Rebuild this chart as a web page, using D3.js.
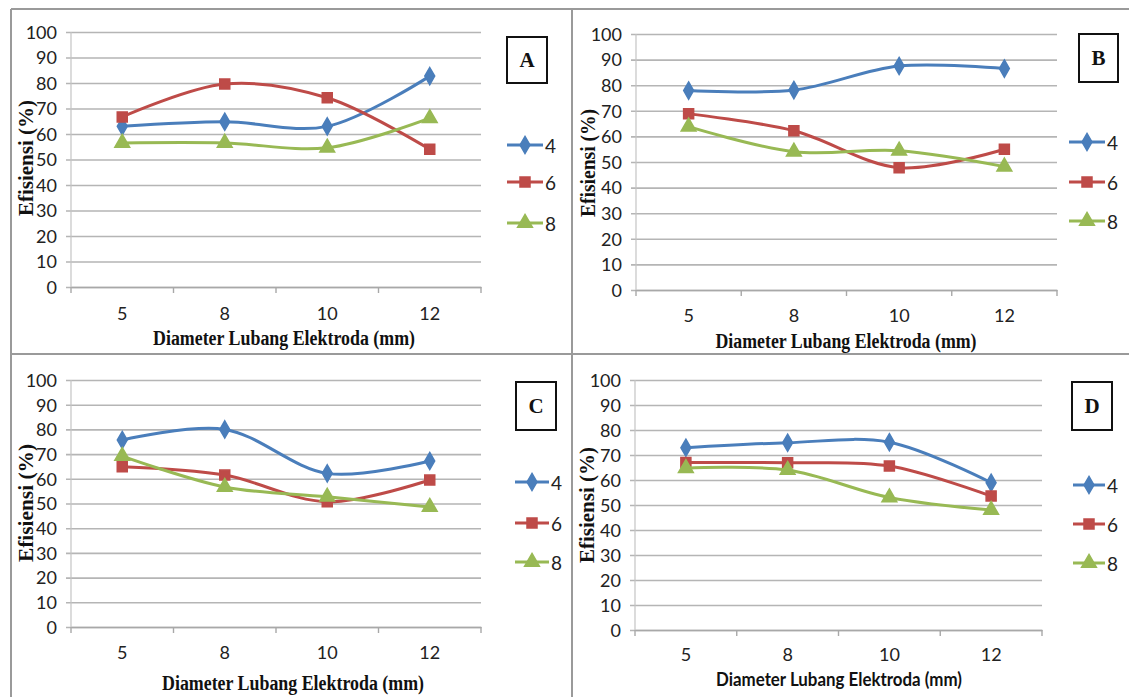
<!DOCTYPE html>
<html>
<head>
  <meta charset='utf-8'>
  <script src='https://cdn.jsdelivr.net/npm/d3@7/dist/d3.min.js'></script>
  <style>
    body { margin: 0; background: #fff; }
    svg { display: block; }
  </style>
</head>
<body>
<div id='chart'></div>
<script>
// x categories: diameter lubang elektroda (mm)
var categories = ['5', '8', '10', '12'];
var seriesNames = ['4', '6', '8'];
var yTicks = [0, 10, 20, 30, 40, 50, 60, 70, 80, 90, 100];

// efisiensi (%)
var a4 = [63.0, 64.8, 63.0, 82.7];
var a6 = [66.7, 79.6, 74.2, 54.0];
var a8 = [56.5, 56.5, 54.6, 66.2];

var b4 = [77.9, 78.1, 87.5, 86.5];
var b6 = [68.8, 62.2, 47.8, 55.0];
var b8 = [63.8, 54.0, 54.4, 48.2];

var c4 = [75.7, 80.0, 62.2, 67.2];
var c6 = [64.9, 61.5, 50.7, 59.5];
var c8 = [69.2, 56.7, 52.7, 48.6];

var d4 = [72.9, 74.9, 75.1, 58.9];
var d6 = [67.0, 66.9, 65.6, 53.6];
var d8 = [64.7, 64.0, 53.0, 48.0];

var xTitle = 'Diameter Lubang Elektroda (mm)';
var yTitle = 'Efisiensi  (%)';

var colors = ['#4a7ebb', '#be4b48', '#98b954'];
var shapes = [d3.symbolDiamond, d3.symbolSquare, d3.symbolTriangle];
var shapeSize = [85, 100, 95];

var panels = [
  { label: 'A', data: [a4, a6, a8], left: 71, right: 481, top: 32, bottom: 287, tickY: 314,
    tx: 284, ty: 338, tlen: 262, sans: false, yx: 26, yy: 158, ylen: 116,
    box: [507, 37, 40, 46], lx: [507, 543], legY: [145, 182, 223] },
  { label: 'B', data: [b4, b6, b8], left: 636, right: 1057, top: 34, bottom: 290, tickY: 316,
    tx: 846, ty: 341, tlen: 261, sans: false, yx: 588, yy: 163, ylen: 108,
    box: [1079, 34, 39, 48], lx: [1069, 1105], legY: [142, 182, 221] },
  { label: 'C', data: [c4, c6, c8], left: 71, right: 481, top: 380, bottom: 627, tickY: 653,
    tx: 293, ty: 683, tlen: 262, sans: false, yx: 26, yy: 503, ylen: 118,
    box: [516, 382, 40, 48], lx: [515, 549], legY: [482, 523, 562] },
  { label: 'D', data: [d4, d6, d8], left: 635, right: 1042, top: 380, bottom: 630, tickY: 655,
    tx: 839, ty: 679, tlen: 246, sans: true, yx: 587, yy: 505, ylen: 116,
    box: [1072, 382, 40, 48], lx: [1073, 1105], legY: [485, 524, 563] }
];

var W = 1129, H = 697;
var svg = d3.select('#chart').append('svg')
  .attr('width', W)
  .attr('height', H);

// panel frame lines
var frame = svg.append('g')
  .attr('stroke', '#9a9a9a')
  .attr('stroke-width', 2);
frame.append('line').attr('x1', 11).attr('x2', W).attr('y1', 9).attr('y2', 9);
frame.append('line').attr('x1', 11).attr('x2', 11).attr('y1', 9).attr('y2', H);
frame.append('line').attr('x1', 572).attr('x2', 572).attr('y1', 9).attr('y2', H);
frame.append('line').attr('x1', 11).attr('x2', W).attr('y1', 354).attr('y2', 354);

var numFont = 'Lato, "Open Sans", sans-serif';
var serifFont = '"Liberation Serif", "Times New Roman", serif';

panels.forEach(function(p) {
  var w = p.right - p.left;
  var g = svg.append('g')
    .attr('transform', 'translate(' + p.left + ',0)');

  var x = d3.scaleBand()
    .domain(categories)
    .range([0, w])
    .padding(0);

  var y = d3.scaleLinear()
    .domain([0, 100])
    .range([p.bottom, p.top]);

  // gridlines + y labels
  var yAxis = g.append('g')
    .call(d3.axisLeft(y).tickValues(yTicks).tickSizeOuter(0));
  yAxis.select('.domain').remove();
  yAxis.selectAll('.tick line')
    .attr('x1', -5)
    .attr('x2', w)
    .attr('stroke', '#b5b5b5')
    .attr('stroke-width', 1.6);
  yAxis.selectAll('.tick text')
    .attr('x', -14)
    .attr('dy', '0.35em')
    .attr('fill', '#222')
    .style('font-family', numFont)
    .style('font-size', '18px');

  // y axis line
  g.append('line')
    .attr('x1', 0).attr('x2', 0)
    .attr('y1', p.top).attr('y2', p.bottom)
    .attr('stroke', '#c4c4c4')
    .attr('stroke-width', 1.2);

  // x axis
  var xAxis = g.append('g')
    .attr('transform', 'translate(0,' + p.bottom + ')')
    .call(d3.axisBottom(x).tickSize(0));
  xAxis.select('.domain')
    .attr('stroke', '#a8a8a8')
    .attr('stroke-width', 1.6);
  xAxis.selectAll('.tick text')
    .attr('y', p.tickY - p.bottom)
    .attr('dy', '0.35em')
    .attr('fill', '#222')
    .style('font-family', numFont)
    .style('font-size', '18px');

  // tick marks at category boundaries
  var edges = categories.map(function(c) { return x(c); }).concat([w]);
  g.selectAll('.edge')
    .data(edges)
    .enter()
    .append('line')
    .attr('class', 'edge')
    .attr('x1', function(d) { return d; })
    .attr('x2', function(d) { return d; })
    .attr('y1', p.bottom)
    .attr('y2', p.bottom + 6)
    .attr('stroke', '#a8a8a8')
    .attr('stroke-width', 1.4);

  var line = d3.line()
    .x(function(d, i) { return x(categories[i]) + x.bandwidth() / 2; })
    .y(function(d) { return y(d); })
    .curve(d3.curveCatmullRom.alpha(0.5));

  p.data.forEach(function(vals, s) {
    g.append('path')
      .datum(vals)
      .attr('d', line)
      .attr('fill', 'none')
      .attr('stroke', colors[s])
      .attr('stroke-width', 3);

    g.selectAll('.m' + s)
      .data(vals)
      .enter()
      .append('path')
      .attr('class', 'm' + s)
      .attr('transform', function(d, i) {
        return 'translate(' + (x(categories[i]) + x.bandwidth() / 2) + ',' + y(d) + ')';
      })
      .attr('d', d3.symbol().type(shapes[s]).size(shapeSize[s]))
      .attr('fill', colors[s])
      .attr('stroke', colors[s])
      .attr('stroke-width', 1.5);
  });

  // x title
  svg.append('text')
    .attr('x', p.tx)
    .attr('y', p.ty)
    .attr('text-anchor', 'middle')
    .attr('dominant-baseline', 'central')
    .attr('textLength', p.tlen)
    .attr('lengthAdjust', 'spacingAndGlyphs')
    .attr('fill', '#111')
    .style('font-family', p.sans ? numFont : serifFont)
    .style('font-weight', 'bold')
    .style('font-size', p.sans ? '18px' : '20px')
    .text(xTitle);

  // y title
  svg.append('text')
    .attr('transform', 'translate(' + p.yx + ',' + p.yy + ') rotate(-90)')
    .attr('text-anchor', 'middle')
    .attr('dominant-baseline', 'central')
    .attr('textLength', p.ylen)
    .attr('lengthAdjust', 'spacingAndGlyphs')
    .attr('fill', '#111')
    .style('font-family', serifFont)
    .style('font-weight', 'bold')
    .style('font-size', '21px')
    .text(yTitle);

  // panel letter box
  svg.append('rect')
    .attr('x', p.box[0])
    .attr('y', p.box[1])
    .attr('width', p.box[2])
    .attr('height', p.box[3])
    .attr('fill', '#fff')
    .attr('stroke', '#111')
    .attr('stroke-width', 2);
  svg.append('text')
    .attr('x', p.box[0] + p.box[2] / 2)
    .attr('y', p.box[1] + p.box[3] / 2)
    .attr('text-anchor', 'middle')
    .attr('dominant-baseline', 'central')
    .attr('fill', '#111')
    .style('font-family', serifFont)
    .style('font-weight', 'bold')
    .style('font-size', '21px')
    .text(p.label);

  // legend
  seriesNames.forEach(function(name, s) {
    var ly = p.legY[s];
    var lg = svg.append('g');
    lg.append('line')
      .attr('x1', p.lx[0]).attr('x2', p.lx[1])
      .attr('y1', ly).attr('y2', ly)
      .attr('stroke', colors[s])
      .attr('stroke-width', 3);
    lg.append('path')
      .attr('transform', 'translate(' + (p.lx[0] + p.lx[1]) / 2 + ',' + ly + ')')
      .attr('d', d3.symbol().type(shapes[s]).size(shapeSize[s]))
      .attr('fill', colors[s])
      .attr('stroke', colors[s])
      .attr('stroke-width', 1.5);
    lg.append('text')
      .attr('x', p.lx[1] + 2)
      .attr('y', ly)
      .attr('dominant-baseline', 'central')
      .attr('fill', '#222')
      .style('font-family', numFont)
      .style('font-size', '19px')
      .text(name);
  });
});
</script>
</body>
</html>
